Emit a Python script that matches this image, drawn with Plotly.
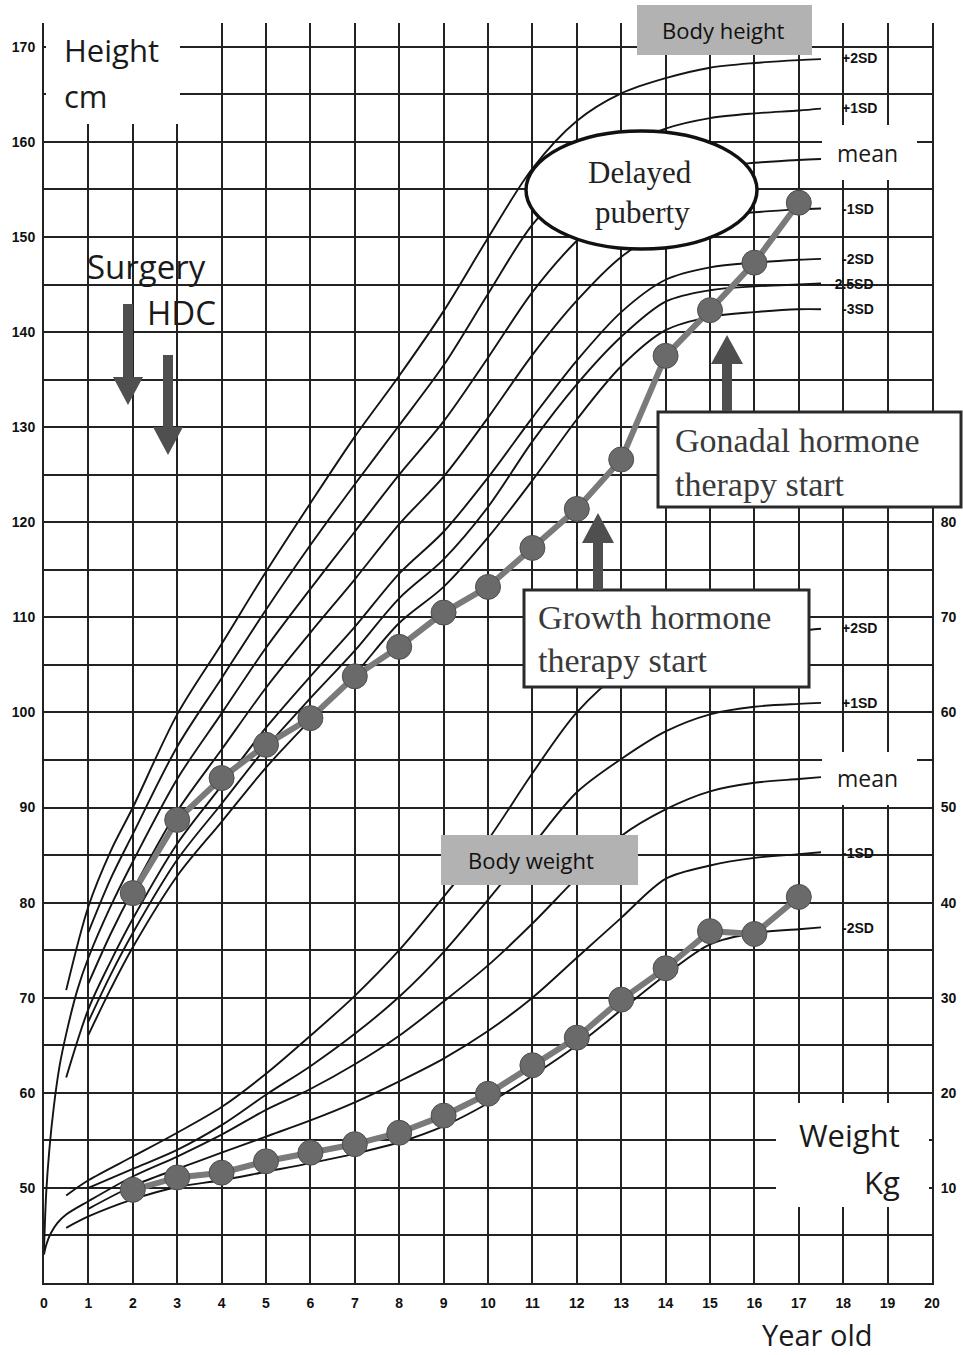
import plotly.graph_objects as go

# ---------------- data ----------------
# Height reference curves (cm)
age_h_p2 = [0.5, 1, 1.5, 2, 3, 4, 5, 6, 7, 8, 9, 10, 11, 12, 13, 14, 15, 16, 17, 17.5]
h_p2 = [70.8, 79.6, 85.4, 90.0, 99.8, 107.2, 114.8, 122.0, 129.0, 135.4, 142.2, 149.9, 157.2, 162.2,
        165.1, 166.7, 167.8, 168.3, 168.6, 168.7]
age_h_p1 = [1, 1.5, 2, 3, 4, 5, 6, 7, 8, 9, 10, 11, 12, 13, 14, 15, 16, 17, 17.5]
h_p1 = [76.9, 82.5, 87.2, 96.4, 103.6, 110.8, 117.6, 124.0, 130.2, 136.5, 144.0, 151.3, 156.0, 159.4,
        161.4, 162.5, 163.0, 163.3, 163.5]
age_h_mean = [0, 0.05, 0.12, 0.22, 0.35, 0.5, 0.75, 1, 1.5, 2, 3, 4, 5, 6, 7, 8, 9, 10, 11, 12, 13,
              14, 15, 16, 17, 17.5]
h_mean = [43.5, 49.5, 54.0, 58.5, 62.8, 66.2, 70.8, 74.2, 79.6, 84.3, 93.0, 99.9, 106.8, 113.0, 119.0,
          125.0, 130.6, 137.3, 144.2, 149.6, 153.6, 156.1, 157.3, 157.8, 158.1, 158.2]
age_h_m1 = [1, 1.5, 2, 3, 4, 5, 6, 7, 8, 9, 10, 11, 12, 13, 14, 15, 16, 17, 17.5]
h_m1 = [71.5, 76.7, 81.3, 89.6, 96.1, 102.6, 108.4, 114.0, 119.8, 124.8, 131.0, 137.6, 143.3, 147.9,
        150.8, 152.1, 152.6, 152.9, 153.0]
age_h_m2 = [0.5, 1, 1.5, 2, 3, 4, 5, 6, 7, 8, 9, 10, 11, 12, 13, 14, 15, 16, 17, 17.5]
h_m2 = [61.6, 68.8, 73.8, 78.3, 86.2, 92.3, 98.4, 103.8, 109.0, 114.6, 119.0, 124.7, 131.0, 137.0,
        142.1, 145.5, 146.8, 147.3, 147.6, 147.7]
age_h_m25 = [1, 1.5, 2, 3, 4, 5, 6, 7, 8, 9, 10, 11, 12, 13, 14, 15, 16, 17, 17.5]
h_m25 = [67.5, 72.4, 76.8, 84.5, 90.4, 96.3, 101.5, 106.5, 112.0, 116.1, 121.6, 128.5, 134.5, 139.5,
         143.2, 144.4, 144.8, 145.0, 145.1]
age_h_m3 = [1, 1.5, 2, 3, 4, 5, 6, 7, 8, 9, 10, 11, 12, 13, 14, 15, 16, 17, 17.5]
h_m3 = [66.1, 70.9, 75.3, 82.8, 88.5, 94.2, 99.2, 104.0, 109.4, 113.2, 118.4, 124.4, 130.8, 136.4,
        140.2, 141.6, 142.1, 142.4, 142.4]

# Weight reference curves (kg)
age_w_p2 = [0.5, 1, 2, 3, 4, 5, 6, 7, 8, 9, 10, 11, 12, 13, 14, 15, 16, 17, 17.5]
w_p2 = [9.2, 10.8, 13.3, 15.8, 18.5, 22.0, 26.0, 30.2, 35.0, 40.6, 46.6, 53.6, 60.0, 64.2, 66.4,
        67.7, 68.3, 68.6, 68.8]
age_w_p1 = [1, 2, 3, 4, 5, 6, 7, 8, 9, 10, 11, 12, 13, 14, 15, 16, 17, 17.5]
w_p1 = [10.0, 12.0, 14.0, 16.6, 19.8, 22.8, 26.2, 30.1, 34.8, 40.3, 46.0, 51.6, 55.1, 58.0, 59.8,
        60.6, 60.9, 61.0]
age_w_mean = [0, 0.05, 0.15, 0.3, 0.5, 1, 2, 3, 4, 5, 6, 7, 8, 9, 10, 11, 12, 13, 14, 15, 16, 17, 17.5]
w_mean = [3.0, 4.0, 5.2, 6.3, 7.2, 8.6, 11.2, 13.3, 15.6, 18.2, 20.4, 23.0, 26.0, 29.6, 33.4, 37.8,
          42.6, 47.0, 49.8, 51.7, 52.6, 53.0, 53.2]
age_w_m1 = [1, 2, 3, 4, 5, 6, 7, 8, 9, 10, 11, 12, 13, 14, 15, 16, 17, 17.5]
w_m1 = [7.8, 10.2, 12.0, 13.7, 15.4, 17.1, 19.0, 21.2, 23.6, 26.5, 30.0, 34.2, 38.4, 42.5, 43.9,
        44.7, 45.1, 45.3]
age_w_m2 = [0.5, 1, 2, 3, 4, 5, 6, 7, 8, 9, 10, 11, 12, 13, 14, 15, 16, 17, 17.5]
w_m2 = [5.8, 7.0, 8.8, 10.1, 10.8, 11.7, 12.6, 13.6, 14.8, 16.5, 18.9, 21.8, 25.0, 28.7, 32.4,
        35.6, 36.8, 37.2, 37.4]

# Patient measurements
age_pt = [2, 3, 4, 5, 6, 7, 8, 9, 10, 11, 12, 13, 14, 15, 16, 17]
height_pt = [81.0, 88.7, 93.1, 96.6, 99.4, 103.8, 106.9, 110.5, 113.2, 117.3, 121.4, 126.6,
             137.5, 142.3, 147.3, 153.6]
weight_pt = [9.8, 11.1, 11.6, 12.8, 13.7, 14.6, 15.8, 17.6, 19.9, 22.9, 25.8, 29.8, 33.1, 37.0,
             36.7, 40.6]

# Axis ticks
x_ticks = list(range(0, 21))
h_grid = list(range(40, 171, 5))
h_labels = [str(v) if (v % 10 == 0 and v >= 50) else "" for v in h_grid]
w_ticks = [10, 20, 30, 40, 50, 60, 70, 80]

height_sd_labels = ["+2SD", "+1SD", "mean", "-1SD", "-2SD", "-2.5SD", "-3SD"]
weight_sd_labels = ["+2SD", "+1SD", "mean", "-1SD", "-2SD"]

# ---------------- figure ----------------
W, H = 963, 1355
L, R, T, B = 44, 932, 23, 1283


def px(x):
    return (x - L) / (R - L)


def py(y):
    return (B - y) / (B - T)


fig = go.Figure()

curve_line = dict(color="#141414", width=1.9, shape="spline", smoothing=0.9)
for ax, ay in [(age_h_p2, h_p2), (age_h_p1, h_p1), (age_h_mean, h_mean), (age_h_m1, h_m1),
               (age_h_m2, h_m2), (age_h_m25, h_m25), (age_h_m3, h_m3)]:
    fig.add_trace(go.Scatter(x=ax, y=ay, mode="lines", line=curve_line,
                             hoverinfo="skip", showlegend=False))
for ax, ay in [(age_w_p2, w_p2), (age_w_p1, w_p1), (age_w_mean, w_mean), (age_w_m1, w_m1),
               (age_w_m2, w_m2)]:
    fig.add_trace(go.Scatter(x=ax, y=ay, mode="lines", line=curve_line, yaxis="y2",
                             hoverinfo="skip", showlegend=False))

pt_line = dict(color="#7a7a7a", width=6)
pt_marker = dict(size=25, color="#6a6a6a", line=dict(color="#4e4e4e", width=1))
fig.add_trace(go.Scatter(x=age_pt, y=height_pt, mode="lines+markers", line=pt_line,
                         marker=pt_marker, showlegend=False))
fig.add_trace(go.Scatter(x=age_pt, y=weight_pt, mode="lines+markers", line=pt_line,
                         marker=pt_marker, yaxis="y2", showlegend=False))

shapes = []


def rect(x0, y0, x1, y1, fill, line_color=None, line_width=0):
    shapes.append(dict(type="rect", xref="paper", yref="paper",
                       x0=px(x0), x1=px(x1), y0=py(y1), y1=py(y0),
                       fillcolor=fill, layer="above",
                       line=dict(color=line_color or fill, width=line_width)))


def poly(points, fill):
    path = "M " + " L ".join(f"{px(a):.5f},{py(b):.5f}" for a, b in points) + " Z"
    shapes.append(dict(type="path", xref="paper", yref="paper", path=path,
                       fillcolor=fill, layer="above", line=dict(width=0, color=fill)))


# white areas that interrupt the grid
rect(46, 21, 180, 124, "white")          # Height cm
rect(776, 1103, 929, 1207, "white")      # Weight Kg
rect(822, 125, 917, 180, "white")        # height mean label
rect(822, 752, 917, 805, "white")        # weight mean label

# gray label boxes
rect(637, 5, 812, 55, "#b2b2b2")
rect(441, 835, 638, 885, "#b2b2b2")

# ellipse
shapes.append(dict(type="circle", xref="paper", yref="paper",
                   x0=px(526), x1=px(757), y0=py(249), y1=py(131),
                   fillcolor="white", layer="above", line=dict(color="#111", width=3.5)))

# text boxes
rect(658, 412, 961, 507, "white", "#2a2a2a", 3)
rect(524, 590, 809, 687, "white", "#2a2a2a", 3)

arrow_col = "#4f4f4f"
# down arrows (Surgery, HDC)
poly([(123, 304), (133, 304), (133, 377), (143, 377), (128, 405), (113, 377), (123, 377)], arrow_col)
poly([(163, 355), (173, 355), (173, 427), (183, 427), (168, 455), (153, 427), (163, 427)], arrow_col)
# up arrows (therapy starts)
poly([(593, 590), (603, 590), (603, 543), (614, 543), (598, 513), (582, 543), (593, 543)], arrow_col)
poly([(722, 411), (732, 411), (732, 364), (743, 364), (727, 335), (711, 364), (722, 364)], arrow_col)

fig.update_layout(shapes=shapes)

ann = []
SANS = "Open Sans"
SERIF = "Liberation Serif"


def text(t, x, y, size, family=SANS, xanchor="left", color="#1a1a1a", weight="normal"):
    ann.append(dict(text=t, x=px(x), y=py(y), xref="paper", yref="paper",
                    xanchor=xanchor, yanchor="middle", showarrow=False,
                    font=dict(family=family, size=size, color=color, weight=weight)))


text("Height", 62, 50, 31)
text("cm", 62, 96, 31)
text("Surgery", 85, 266, 33)
text("HDC", 145, 313, 33)
text("Year old", 817, 1334, 29, xanchor="center")
text("Weight", 902, 1135, 31, xanchor="right")
text("Kg", 902, 1182, 31, xanchor="right")
text("Body height", 723, 30, 22, xanchor="center", color="#111")
text("Body weight", 531, 860, 22, xanchor="center", color="#111")
text("Delayed", 640, 172, 31, family=SERIF, xanchor="center", color="#222")
text("puberty", 642, 212, 31, family=SERIF, xanchor="center", color="#222")
text("Gonadal hormone", 673, 440, 34, family=SERIF, color="#3a3a3a")
text("therapy start", 673, 484, 34, family=SERIF, color="#3a3a3a")
text("Growth hormone", 536, 617, 34, family=SERIF, color="#3a3a3a")
text("therapy start", 536, 660, 34, family=SERIF, color="#3a3a3a")

h_label_y = [58, 108, 153, 209, 259, 284, 309]
for lab, yy in zip(height_sd_labels, h_label_y):
    if lab == "mean":
        text(lab, 835, yy, 23)
    else:
        text(lab, 840 if lab != "-2.5SD" else 828, yy, 14, family="Liberation Sans",
             weight="bold", color="#111")
w_label_y = [628, 703, 778, 853, 928]
for lab, yy in zip(weight_sd_labels, w_label_y):
    if lab == "mean":
        text(lab, 835, yy, 23)
    else:
        text(lab, 840, yy, 14, family="Liberation Sans", weight="bold", color="#111")

fig.update_layout(annotations=ann)

tickfont = dict(family="Liberation Sans", size=14, color="#111", weight="bold")
grid_col = "#222222"
fig.update_layout(
    width=W, height=H,
    margin=dict(l=L, r=W - R, t=T, b=H - B, autoexpand=False),
    paper_bgcolor="white", plot_bgcolor="white",
    showlegend=False,
    xaxis=dict(range=[0, 20], tickmode="array", tickvals=x_ticks, automargin=False,
               ticktext=[str(v) for v in x_ticks], showgrid=True, gridcolor=grid_col,
               gridwidth=1.8, showline=True, linecolor=grid_col, linewidth=2, zeroline=False,
               ticks="", tickfont=tickfont, ticklabelstandoff=6),
    yaxis=dict(range=[40, 172.5], tickmode="array", tickvals=h_grid, ticktext=h_labels,
               automargin=False,
               showgrid=True, gridcolor=grid_col, gridwidth=1.8, showline=True,
               linecolor=grid_col, linewidth=2, zeroline=False, ticks="",
               tickfont=tickfont, ticklabelstandoff=4),
    yaxis2=dict(range=[0, 132.5], overlaying="y", side="right", tickmode="array",
                automargin=False,
                tickvals=w_ticks, ticktext=[str(v) for v in w_ticks], showgrid=False,
                showline=True, linecolor=grid_col, linewidth=2, zeroline=False, ticks="",
                tickfont=tickfont, ticklabelstandoff=4),
)

fig.write_html("out.html", config={"displayModeBar": False},
               post_script="document.body.style.margin='0';document.body.style.overflow='hidden';")
